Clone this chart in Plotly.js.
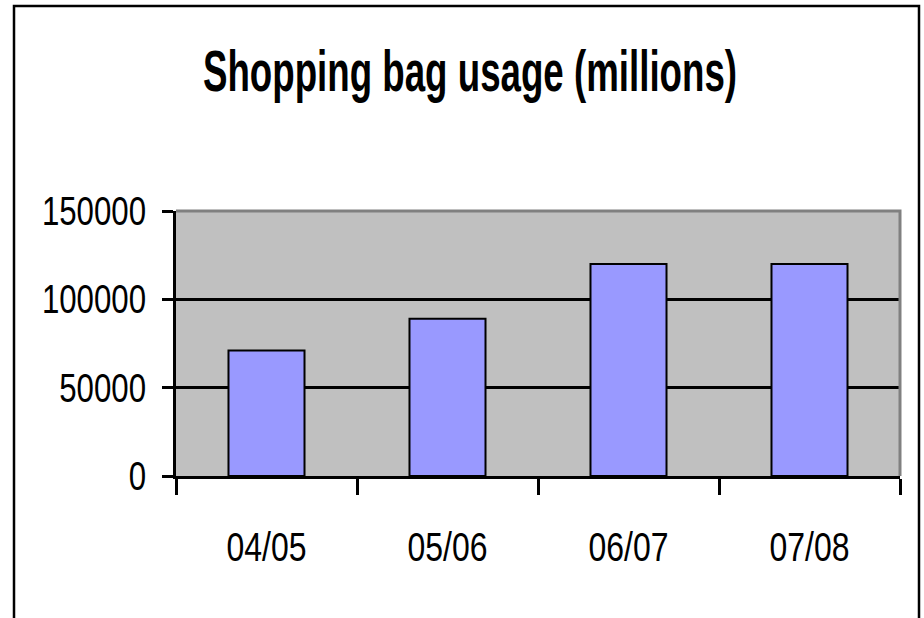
<!DOCTYPE html>
<html>
<head>
<meta charset="utf-8">
<script src="https://cdn.plot.ly/plotly-3.0.1.min.js"></script>
<style>
html,body{margin:0;padding:0;background:#fff;}
#chart{width:924px;height:618px;}
</style>
</head>
<body>
<div id="chart"></div>
<script>
const categories = ["04/05", "05/06", "06/07", "07/08"];
const usage = [71000, 89000, 120000, 120000];
const yTickVals = [0, 50000, 100000, 150000];
const yTickText = ["0", "50000", "100000", "150000"];
const chartTitle = "Shopping bag usage (millions)";

const FONT = "'Liberation Sans', Arial, sans-serif";
const ML = 176, MR = 24, MT = 211, MB = 142, W = 924, H = 618;
const PW = W - ML - MR, PH = H - MT - MB;
const px = x => (x - ML) / PW;
const py = y => (H - MB - y) / PH;

const trace = {
  type: "bar",
  x: categories,
  y: usage,
  marker: {color: "#9999FF", line: {color: "#000000", width: 2}},
  hoverinfo: "x+y"
};

const layout = {
  width: W, height: H,
  margin: {l: ML, r: MR, t: MT, b: MB, pad: 0},
  paper_bgcolor: "#FFFFFF",
  plot_bgcolor: "#C0C0C0",
  showlegend: false,
  bargap: 0.58,
  title: {
    text: "<b>" + chartTitle + "</b>",
    font: {family: FONT, size: 57, color: "#000"},
    xref: "container", yref: "container",
    x: 470 / W, xanchor: "center",
    y: 1 - 71 / H, yanchor: "middle"
  },
  xaxis: {
    type: "category",
    showgrid: false,
    showline: true, linecolor: "#000", linewidth: 3,
    ticks: "outside", tickson: "boundaries", ticklen: 16, tickwidth: 3, tickcolor: "#000",
    ticklabelstandoff: 33,
    tickfont: {family: FONT, size: 41, color: "#000"},
    zeroline: false
  },
  yaxis: {
    range: [0, 150000],
    tickvals: yTickVals, ticktext: yTickText,
    showgrid: true, gridcolor: "#000", gridwidth: 3,
    showline: true, linecolor: "#000", linewidth: 3,
    ticks: "outside", ticklen: 11, tickwidth: 3, tickcolor: "#000",
    ticklabelstandoff: 8,
    tickfont: {family: FONT, size: 40, color: "#000"},
    zeroline: false
  },
  shapes: [
    {type: "path", xref: "paper", yref: "paper", layer: "above",
     path: `M ${px(ML)} ${py(MT)} L ${px(W - MR)} ${py(MT)} L ${px(W - MR)} ${py(H - MB)}`,
     line: {color: "#808080", width: 3}},
    {type: "path", xref: "paper", yref: "paper", layer: "above",
     path: `M ${px(14)} ${py(640)} L ${px(14)} ${py(6)} L ${px(919)} ${py(6)} L ${px(919)} ${py(640)}`,
     line: {color: "#000", width: 2.5}}
  ]
};

// The reference uses a narrow typeface; squeeze the rendered text horizontally.
function squeeze(selector, sx, anchor) {
  document.querySelectorAll(selector).forEach(t => {
    const b = t.getBBox();
    const ax = anchor === "end" ? b.x + b.width : (anchor === "start" ? b.x : b.x + b.width / 2);
    const ay = b.y + b.height / 2;
    const old = t.getAttribute("transform") || "";
    t.setAttribute("transform", `${old} translate(${ax},${ay}) scale(${sx},1) translate(${-ax},${-ay})`);
  });
}

Plotly.newPlot("chart", [trace], layout, {staticPlot: true, displayModeBar: false}).then(() => {
  squeeze("#chart .ytick text", 0.78, "end");
  squeeze("#chart .xtick text", 0.78, "middle");
  squeeze("#chart .gtitle", 0.644, "middle");
});
</script>
</body>
</html>
